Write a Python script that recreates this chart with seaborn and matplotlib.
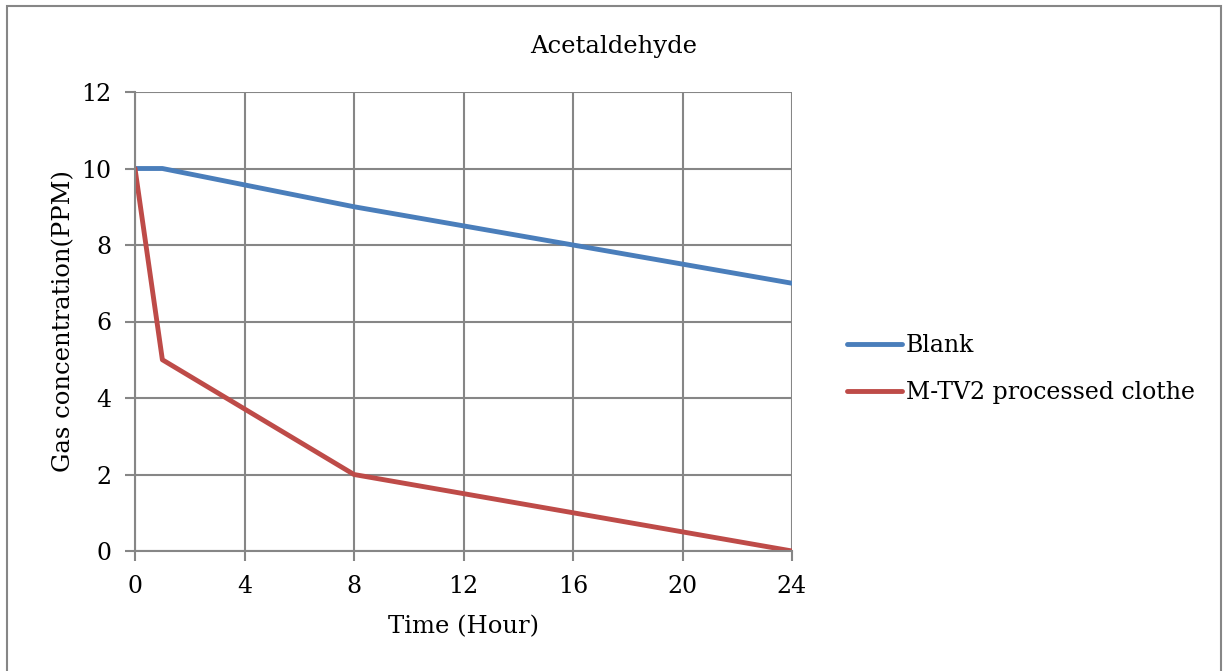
import matplotlib
matplotlib.use("Agg")
import matplotlib.pyplot as plt
import seaborn as sns
import pandas as pd
from matplotlib.patches import Rectangle

hours = [0, 1, 8, 16, 24]
blank = [10, 10, 9, 8, 7]
mtv2 = [10, 5, 2, 1, 0]
series_names = ["Blank", "M-TV2 processed clothe"]
x_ticks = [0, 4, 8, 12, 16, 20, 24]
y_ticks = [0, 2, 4, 6, 8, 10, 12]

df = pd.DataFrame({
    "Time": hours * 2,
    "Value": blank + mtv2,
    "Series": [series_names[0]] * len(hours) + [series_names[1]] * len(hours),
})

sns.set_theme(style="white")
plt.rcParams['font.family'] = ['DejaVu Serif']
plt.rcParams['text.color'] = 'black'

fig = plt.figure(figsize=(12.27, 6.71), dpi=100)
ax = fig.add_axes([135/1227, 1 - 551/671, (792-135)/1227, (551-92)/671])

sns.lineplot(data=df, x="Time", y="Value", hue="Series",
             palette=["#4A7EBB", "#BE4B48"], linewidth=3.5, ax=ax, legend=True)

ax.set_xlim(0, 24)
ax.set_ylim(0, 12)
ax.set_xticks(x_ticks)
ax.set_yticks(y_ticks)
ax.grid(True, color="#868686", linewidth=1.5)
for s in ["top", "right"]:
    ax.spines[s].set_visible(False)
for s in ["left", "bottom"]:
    ax.spines[s].set_color("#868686")
    ax.spines[s].set_linewidth(1.5)
ax.tick_params(axis="both", which="major", length=7, width=1.5, color="#868686",
               labelsize=17, labelcolor="black", direction="out", bottom=True, left=True,
               pad=10)
ax.set_xlabel("Time (Hour)", fontsize=17.5, color="black", labelpad=13)
ax.set_ylabel("Gas concentration(PPM)", fontsize=17.5, color="black", labelpad=4)
fig.text(0.5, 1 - 47/671, "Acetaldehyde", fontsize=17.5, color="black",
         ha="center", va="center")

leg = ax.legend(loc="center left", bbox_to_anchor=(847/1227, 1 - 369/671),
                bbox_transform=fig.transFigure, frameon=False, fontsize=17,
                handlelength=2.35, handletextpad=0.15, labelspacing=1.0,
                borderaxespad=0, borderpad=0)
for t in leg.get_texts():
    t.set_color("black")

fig.patches.append(Rectangle((7/1227, -0.05), (1221-7)/1227, 1.05 - 6/671,
                             transform=fig.transFigure, fill=False,
                             edgecolor="#868686", linewidth=1.5))

fig.savefig("out.png", dpi=100)
